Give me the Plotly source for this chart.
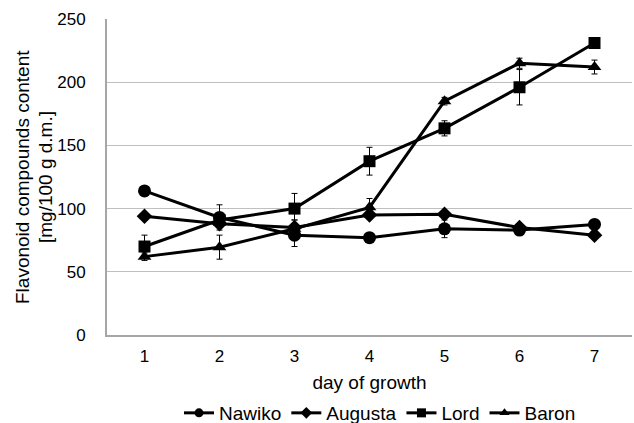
import plotly.graph_objects as go

days = [1, 2, 3, 4, 5, 6, 7]
y_ticks = [0, 50, 100, 150, 200, 250]

nawiko = [114, 93, 79, 77, 84, 83, 87.5]
nawiko_err = [3, 10, 9, 3, 7, 3, 3]
augusta = [94, 88, 85, 95, 95.5, 85, 79]
augusta_err = [2, 3, 6, 3, 2, 2, 2]
lord = [70, 91, 100, 137.5, 163.5, 196, 231]
lord_err = [9, 5, 12, 11, 6, 14, 3]
baron = [62, 69.5, 84, 101, 185, 215, 212]
baron_err = [3, 9.5, 7, 7, 3, 4, 5.5]

series = [
    ("Nawiko", nawiko, nawiko_err, "circle", 13),
    ("Augusta", augusta, augusta_err, "diamond", 12),
    ("Lord", lord, lord_err, "square", 12),
    ("Baron", baron, baron_err, "triangle-up", 12),
]

fig = go.Figure()
for name, vals, err, sym, size in series:
    fig.add_trace(go.Scatter(
        x=days, y=vals, name=name, mode="lines+markers", showlegend=False,
        line=dict(color="black", width=3),
        marker=dict(symbol=sym, size=size, color="black"),
        error_y=dict(type="data", array=err, visible=True, color="black",
                     thickness=1, width=3),
    ))
# legend entries (smaller symbols as in the reference legend)
for name, vals, err, sym, size in series:
    fig.add_trace(go.Scatter(
        x=[None], y=[None], name=name, mode="lines+markers",
        line=dict(color="black", width=3),
        marker=dict(symbol=sym, size=9, color="black"),
    ))

W, H = 634, 423
ML, MR, MT, MB = 107, 2, 19, 88
PW = W - ML - MR

font = "Liberation Sans, Arial, sans-serif"
fig.update_layout(
    width=W, height=H,
    margin=dict(l=ML, r=MR, t=MT, b=MB, autoexpand=False),
    paper_bgcolor="white", plot_bgcolor="white",
    font=dict(family=font, size=17, color="black"),
    showlegend=True,
    legend=dict(orientation="h", x=0.52, xanchor="center",
                yref="container", y=1 - 413 / H, yanchor="middle",
                font=dict(size=19), itemwidth=30, tracegroupgap=0,
                bgcolor="rgba(0,0,0,0)"),
    xaxis=dict(
        range=[0.5, 7.5], tickmode="array", tickvals=days, ticktext=[str(d) for d in days],
        showgrid=False, showline=True, linecolor="#a6a6a6", linewidth=2,
        ticks="", zeroline=False, automargin=False, ticklabelstandoff=5,
        title=dict(text="day of growth", font=dict(size=19), standoff=10),
    ),
    yaxis=dict(
        range=[0, 250], tickmode="array", tickvals=y_ticks,
        showgrid=True, gridcolor="#bfbfbf", gridwidth=1,
        showline=True, linecolor="#a6a6a6", linewidth=2,
        ticks="", zeroline=False, ticklabelstandoff=16, automargin=False,
    ),
    annotations=[
        dict(text="Flavonoid compounds content", textangle=-90, showarrow=False,
             xref="paper", yref="paper", x=(22 - ML) / PW, xanchor="center",
             y=0.5, yanchor="middle", font=dict(size=19)),
        dict(text="[mg/100 g d.m.]", textangle=-90, showarrow=False,
             xref="paper", yref="paper", x=(45 - ML) / PW, xanchor="center",
             y=0.5, yanchor="middle", font=dict(size=19)),
    ],
)

fig.write_html("out.html", post_script="document.body.style.margin='0';",
               config={"displayModeBar": False})
